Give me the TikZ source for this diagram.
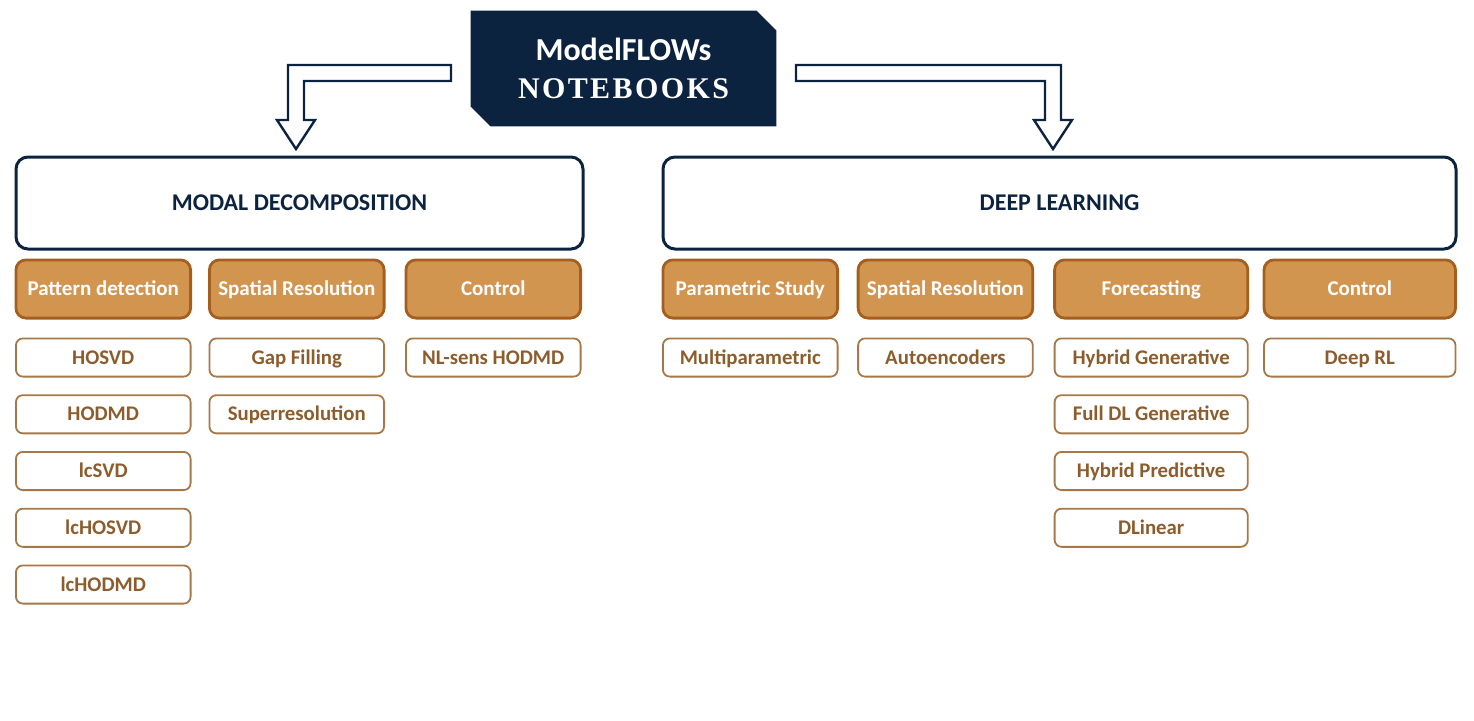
\documentclass[tikz,border=0pt]{standalone}
\usepackage{fontspec}
\setmainfont{Carlito}
\newfontfamily\stencil[LetterSpace=8]{Liberation Serif Bold}
\usetikzlibrary {positioning}
\usetikzlibrary {math}
\usetikzlibrary {backgrounds}
\definecolor{navy}{HTML}{0C2340}
\definecolor{orangefill}{HTML}{D29550}
\definecolor{orangedraw}{HTML}{A55E1E}
\definecolor{browntext}{HTML}{8C5C2C}
\definecolor{browndraw}{HTML}{A67848}
\tikzset{
titleBox/.style={rectangle,minimum width=152.5pt,minimum height=57.5pt,align=center,inner sep=0pt,text=white,font=\bfseries\fontsize{16}{18.5}\selectfont}
}
\tikzset{
catBox/.style={rectangle,rounded corners=6pt,draw=navy,line width=1.5pt,minimum height=46pt,text=navy,text height=9.7pt,text depth=2pt,font=\bfseries\fontsize{12}{14}\selectfont}
}
\tikzset{
groupBox/.style={rectangle,rounded corners=5pt,draw=orangedraw,fill=orangefill,line width=1.4pt,minimum height=29.1pt,minimum width=87.35pt,text=white,text height=8.4pt,text depth=1.64pt,font=\bfseries\fontsize{10.5}{12}\selectfont}
}
\tikzset{
itemBox/.style={rectangle,rounded corners=3.5pt,draw=browndraw,line width=0.9pt,minimum height=19.1pt,minimum width=87.35pt,text=browntext,text height=8.3pt,text depth=1.6pt,font=\bfseries\fontsize{10.4}{12}\selectfont}
}
\tikzset{
bigArrow/.style={draw=navy,fill=white,line width=1.2pt,line join=miter}
}
\begin{document}
\begin{tikzpicture}[x=0.5pt,y=0.5pt]
\useasboundingbox (0,0) rectangle (1474,720);

\node[titleBox] (T) at (623.5,651.5) {ModelFLOWs\\[0.5pt]{\stencil\fontsize{15}{18.5}\selectfont NOTEBOOKS}};
\begin{scope}[on background layer]
\fill[navy] (T.north west) -- ([xshift=-10pt]T.north east) -- ([yshift=-10pt]T.north east) -- (T.south east) -- ([xshift=10pt]T.south west) -- ([yshift=10pt]T.south west) -- cycle;
\end{scope}

\node[catBox,minimum width=283.5pt] (MD) at (299.5,517) {MODAL DECOMPOSITION};
\node[catBox,minimum width=396.5pt] (DL) at (1059.5,517) {DEEP LEARNING};

%\draw (T.west) -- (MD.north);
\draw[bigArrow] (451,655) -- (288,655) -- (288,600) -- (277,600) -- (296,571) -- (315,600) -- (304,600) -- (304,639) -- (451,639) -- cycle;
\draw[bigArrow] (796,655) -- (1061,655) -- (1061,600) -- (1072,600) -- (1053,571) -- (1034,600) -- (1045,600) -- (1045,639) -- (796,639) -- cycle;
%------------------------------------------------------------------------------------------------------------%
\node[groupBox,below right=4pt and 0pt of MD.south west] (PD) {Pattern detection};
\node[groupBox,right=8pt of PD] (SR) {Spatial Resolution};
\node[groupBox,right=9.5pt of SR] (MC) {Control};

\node[itemBox,below=9pt of PD] (PD1) {HOSVD};
\foreach \t [count=\i from 2] in {HODMD,lcSVD,lcHOSVD,lcHODMD}
{
\tikzmath{
int \j;
\j = \i-1;
}
\node[itemBox,below=8.375pt of PD\j] (PD\i) {\t};
}

\node[itemBox,below=9pt of SR] (SR1) {Gap Filling};
\node[itemBox,below=8.375pt of SR1] (SR2) {Superresolution};

\node[itemBox,below=9pt of MC] (MC1) {NL-sens HODMD};
%------------------------------------------------------------------------------------------------------------%
\node[groupBox,below right=4pt and 0pt of DL.south west] (PS) {Parametric Study};
\node[groupBox,right=8.85pt of PS] (SD) {Spatial Resolution};
\node[groupBox,right=9.5pt of SD,minimum width=96.6pt] (FC) {Forecasting};
\node[groupBox,right=6.7pt of FC,minimum width=95.75pt] (DC) {Control};

\node[itemBox,below=9pt of PS] (PS1) {Multiparametric};
\node[itemBox,below=9pt of SD] (SD1) {Autoencoders};

\node[itemBox,below=9pt of FC,minimum width=96.6pt] (FC1) {Hybrid Generative};
\foreach \t [count=\i from 2] in {Full DL Generative,Hybrid Predictive,DLinear}
{
\tikzmath{
int \j;
\j = \i-1;
}
\node[itemBox,below=8.375pt of FC\j,minimum width=96.6pt] (FC\i) {\t};
}

\node[itemBox,below=9pt of DC,minimum width=95.75pt] (DC1) {Deep RL};

\end{tikzpicture}
\end{document}
